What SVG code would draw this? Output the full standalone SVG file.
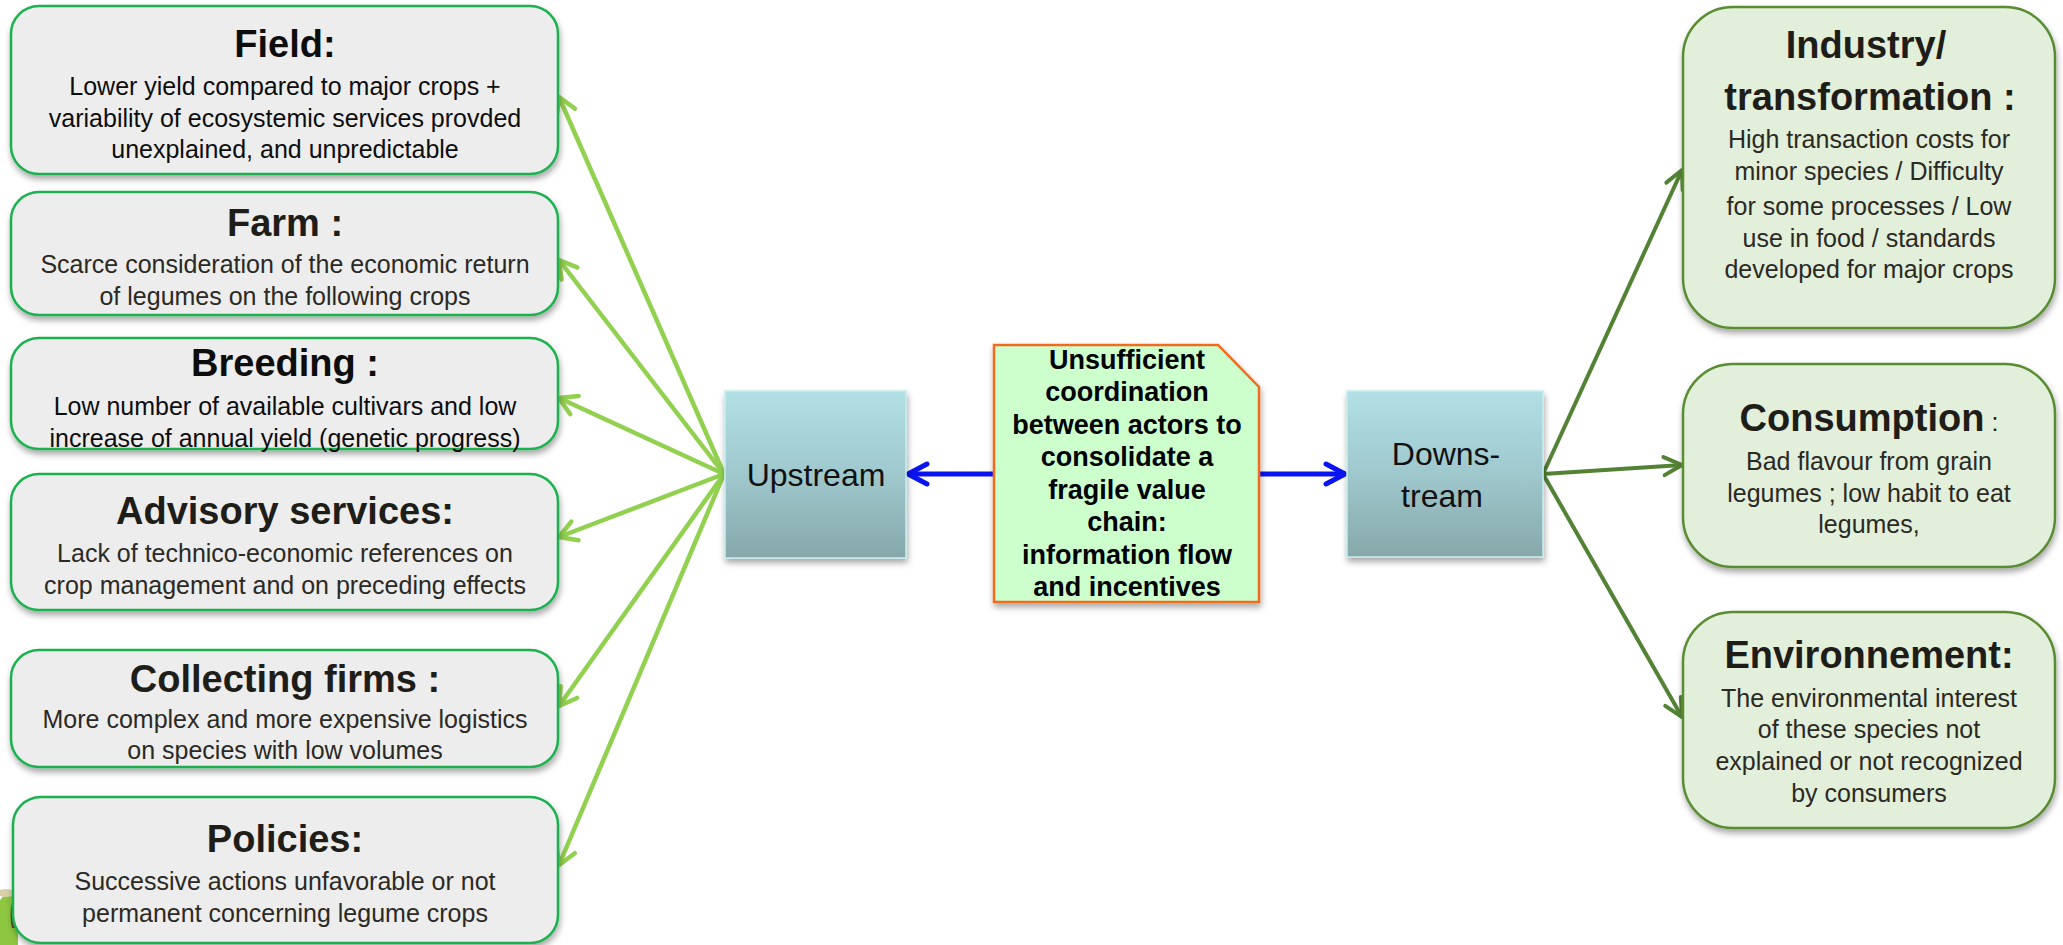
<svg xmlns="http://www.w3.org/2000/svg" width="2063" height="945" viewBox="0 0 2063 945">
<style>
  text { font-family: "Liberation Sans", Arial, sans-serif; text-anchor: middle; }
  .lbox { fill: #EDEDED; stroke: #1DB050; stroke-width: 2.5; }
  .rbox { fill: #E2EFDA; stroke: #5A8C32; stroke-width: 2.5; }
  .ttl { font-size: 38px; font-weight: bold; fill: #1f1d18; }
  .body { font-size: 25px; fill: #2b2924; }
  .blk { fill: #0d0d0d; }
  .stream { fill: url(#streamGrad); stroke: #C8ECEF; stroke-width: 1.5; }
  .stxt { font-size: 32px; fill: #111; }
  .note { fill: #CCFFCC; stroke: #F26A1B; stroke-width: 2.5; }
  .ntxt { font-size: 27px; font-weight: bold; fill: #000; }
  .lg { stroke: #92D050; stroke-width: 4.5; fill: none; marker-end: url(#arrLG); }
  .dg { stroke: #548235; stroke-width: 4; fill: none; marker-end: url(#arrDG); }
  .bl { stroke: #0A14F0; stroke-width: 5; fill: none; marker-end: url(#arrBL); }
</style>
<defs>
  <linearGradient id="streamGrad" x1="0" y1="0" x2="0" y2="1">
    <stop offset="0" stop-color="#B1E0E5"/>
    <stop offset="0.5" stop-color="#9FC8CD"/>
    <stop offset="1" stop-color="#86A8AA"/>
  </linearGradient>
  <filter id="sh" x="-10%" y="-10%" width="125%" height="135%">
    <feDropShadow dx="1" dy="4" stdDeviation="3" flood-color="#000" flood-opacity="0.35"/>
  </filter>
  <marker id="arrLG" markerUnits="userSpaceOnUse" viewBox="-22 -14 26 28" refX="0" refY="0" markerWidth="26" markerHeight="28" orient="auto">
    <path d="M-17,-10 L0,0 L-17,10" fill="none" stroke="#92D050" stroke-width="4.5" stroke-linecap="round" stroke-linejoin="round"/>
  </marker>
  <marker id="arrDG" markerUnits="userSpaceOnUse" viewBox="-22 -14 26 28" refX="0" refY="0" markerWidth="26" markerHeight="28" orient="auto">
    <path d="M-18,-9 L0,0 L-18,9" fill="none" stroke="#548235" stroke-width="4" stroke-linecap="round" stroke-linejoin="round"/>
  </marker>
  <marker id="arrBL" markerUnits="userSpaceOnUse" viewBox="-24 -14 28 28" refX="0" refY="0" markerWidth="28" markerHeight="28" orient="auto">
    <path d="M-19,-10 L0,0 L-19,10" fill="none" stroke="#0A14F0" stroke-width="5" stroke-linecap="round" stroke-linejoin="round"/>
  </marker>
</defs>

<rect width="2063" height="945" fill="#FFFFFF"/>

<!-- background decoration fragment -->
<g id="decoration">
  <path d="M0,900 Q8,890 18,896 L18,945 L0,945 Z" fill="#8DC63F"/>
  <ellipse cx="6" cy="893" rx="9" ry="4" fill="#D9CFA8"/>
  <path d="M12,903 Q9,915 12,928 L15,928 L15,903 Z" fill="#5A4A30"/>
</g>

<g id="connectors">
  <line class="lg" x1="724" y1="474" x2="559" y2="97"/>
  <line class="lg" x1="724" y1="474" x2="559" y2="260"/>
  <line class="lg" x1="724" y1="474" x2="559" y2="398"/>
  <line class="lg" x1="724" y1="474" x2="559" y2="537"/>
  <line class="lg" x1="724" y1="474" x2="559" y2="706"/>
  <line class="lg" x1="724" y1="474" x2="559" y2="865"/>
  <line class="bl" x1="994" y1="474" x2="908" y2="474"/>
  <line class="bl" x1="1259" y1="474" x2="1345" y2="474"/>
  <line class="dg" x1="1543" y1="474" x2="1682" y2="170"/>
  <line class="dg" x1="1543" y1="474" x2="1682" y2="465"/>
  <line class="dg" x1="1543" y1="474" x2="1682" y2="717"/>
</g>

<g id="field">
  <rect class="lbox" x="11" y="6" width="547" height="168" rx="28" filter="url(#sh)"/>
  <text class="ttl blk" x="285" y="57">Field:</text>
  <text class="body blk" x="285" y="95">Lower yield compared to major crops +</text>
  <text class="body blk" x="285" y="127">variability of ecosystemic services provded</text>
  <text class="body blk" x="285" y="158">unexplained, and unpredictable</text>
</g>

<g id="farm">
  <rect class="lbox" x="11" y="192" width="547" height="123" rx="28" filter="url(#sh)"/>
  <text class="ttl" x="285" y="236">Farm :</text>
  <text class="body" x="285" y="273">Scarce consideration of the economic return</text>
  <text class="body" x="285" y="305">of legumes on the following crops</text>
</g>

<g id="breeding">
  <rect class="lbox" x="11" y="338" width="547" height="111" rx="28" filter="url(#sh)"/>
  <text class="ttl blk" x="285" y="376">Breeding :</text>
  <text class="body blk" x="285" y="415">Low number of available cultivars and low</text>
  <text class="body blk" x="285" y="447">increase of annual yield (genetic progress)</text>
</g>

<g id="advisory">
  <rect class="lbox" x="11" y="474" width="547" height="136" rx="28" filter="url(#sh)"/>
  <text class="ttl" x="285" y="524">Advisory services:</text>
  <text class="body" x="285" y="562">Lack of technico-economic references on</text>
  <text class="body" x="285" y="594">crop management and on preceding effects</text>
</g>

<g id="collecting">
  <rect class="lbox" x="11" y="650" width="547" height="117" rx="28" filter="url(#sh)"/>
  <text class="ttl" x="285" y="692">Collecting firms :</text>
  <text class="body" x="285" y="728">More complex and more expensive logistics</text>
  <text class="body" x="285" y="759">on species with low volumes</text>
</g>

<g id="policies">
  <rect class="lbox" x="13" y="797" width="545" height="146" rx="28" filter="url(#sh)"/>
  <text class="ttl" x="285" y="852">Policies:</text>
  <text class="body" x="285" y="890">Successive actions unfavorable or not</text>
  <text class="body" x="285" y="922">permanent concerning legume crops</text>
</g>

<g id="upstream">
  <rect class="stream" x="725" y="391" width="181" height="167" filter="url(#sh)"/>
  <text class="stxt" x="816" y="486">Upstream</text>
</g>

<g id="coordination-note">
  <path class="note" d="M994,345 L1218,345 L1259,387 L1259,602 L994,602 Z" filter="url(#sh)"/>
  <text class="ntxt" x="1127" y="369">Unsufficient</text>
  <text class="ntxt" x="1127" y="401">coordination</text>
  <text class="ntxt" x="1127" y="434">between actors to</text>
  <text class="ntxt" x="1127" y="466">consolidate a</text>
  <text class="ntxt" x="1127" y="499">fragile value</text>
  <text class="ntxt" x="1127" y="531">chain:</text>
  <text class="ntxt" x="1127" y="564">information flow</text>
  <text class="ntxt" x="1127" y="596">and incentives</text>
</g>

<g id="downstream">
  <rect class="stream" x="1347" y="391" width="196" height="166" filter="url(#sh)"/>
  <text class="stxt" x="1446" y="465">Downs-</text>
  <text class="stxt" x="1442" y="507">tream</text>
</g>

<g id="industry">
  <rect class="rbox" x="1683" y="7" width="372" height="321" rx="50" filter="url(#sh)"/>
  <text class="ttl" x="1866" y="58">Industry/</text>
  <text class="ttl" x="1870" y="110">transformation :</text>
  <text class="body" x="1869" y="148">High transaction costs for</text>
  <text class="body" x="1869" y="180">minor species / Difficulty</text>
  <text class="body" x="1869" y="215">for some processes / Low</text>
  <text class="body" x="1869" y="247">use in food / standards</text>
  <text class="body" x="1869" y="278">developed for major crops</text>
</g>

<g id="consumption">
  <rect class="rbox" x="1683" y="364" width="372" height="203" rx="50" filter="url(#sh)"/>
  <text class="ttl" x="1869" y="431">Consumption<tspan font-size="25" font-weight="normal"> :</tspan></text>
  <text class="body" x="1869" y="470">Bad flavour from grain</text>
  <text class="body" x="1869" y="502">legumes ; low habit to eat</text>
  <text class="body" x="1869" y="533">legumes,</text>
</g>

<g id="environnement">
  <rect class="rbox" x="1683" y="612" width="372" height="216" rx="50" filter="url(#sh)"/>
  <text class="ttl" x="1869" y="668">Environnement:</text>
  <text class="body" x="1869" y="707">The environmental interest</text>
  <text class="body" x="1869" y="738">of these species not</text>
  <text class="body" x="1869" y="770">explained or not recognized</text>
  <text class="body" x="1869" y="802">by consumers</text>
</g>
</svg>
